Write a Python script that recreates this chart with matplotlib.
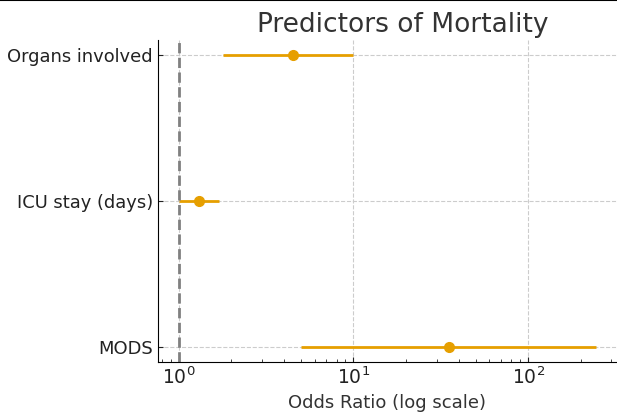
import matplotlib
matplotlib.use("Agg")
import matplotlib.pyplot as plt
from matplotlib.lines import Line2D

# --- data ---
predictors = ["Organs involved", "ICU stay (days)", "MODS"]
odds_ratio = [4.5, 1.3, 35.0]
ci_lower = [1.8, 1.0, 5.0]
ci_upper = [10.0, 1.7, 245.0]

# --- style ---
plt.rcParams['font.family'] = 'DejaVu Sans'
plt.rcParams['text.color'] = '#333333'
plt.rcParams['axes.labelcolor'] = '#333333'
plt.rcParams['xtick.color'] = '#222222'
plt.rcParams['ytick.color'] = '#222222'
plt.rcParams['xtick.direction'] = 'in'
plt.rcParams['ytick.direction'] = 'in'

fig, ax = plt.subplots(figsize=(6.17, 4.12), dpi=100)
fig.subplots_adjust(left=0.256, right=1.0, top=0.903, bottom=0.122)

ypos = list(range(len(predictors)))[::-1]
xerr = [[o - lo for o, lo in zip(odds_ratio, ci_lower)],
        [hi - o for o, hi in zip(odds_ratio, ci_upper)]]

ax.errorbar(odds_ratio, ypos, xerr=xerr, fmt='o', color='#E69F00',
            ecolor='#E69F00', elinewidth=2, markersize=7, capsize=0)
ax.axvline(1, color='grey', linestyle='--', linewidth=2)

ax.set_xscale('log')
ax.set_yticks(ypos)
ax.set_yticklabels(predictors, fontsize=12.9)
ax.tick_params(axis='x', labelsize=13.5)
ax.set_xlabel('Odds Ratio (log scale)', fontsize=13)
ax.set_title('Predictors of Mortality', fontsize=19, x=0.534)

ax.grid(True, linestyle='--', color='#cccccc', linewidth=0.8)
ax.set_axisbelow(True)
for side in ['top', 'right']:
    ax.spines[side].set_visible(False)

# thin dark border line at the very top of the image
fig.add_artist(Line2D([0, 1], [0.999, 0.999], color='black', linewidth=1.5,
                      transform=fig.transFigure))

plt.savefig('out.png', dpi=100)
